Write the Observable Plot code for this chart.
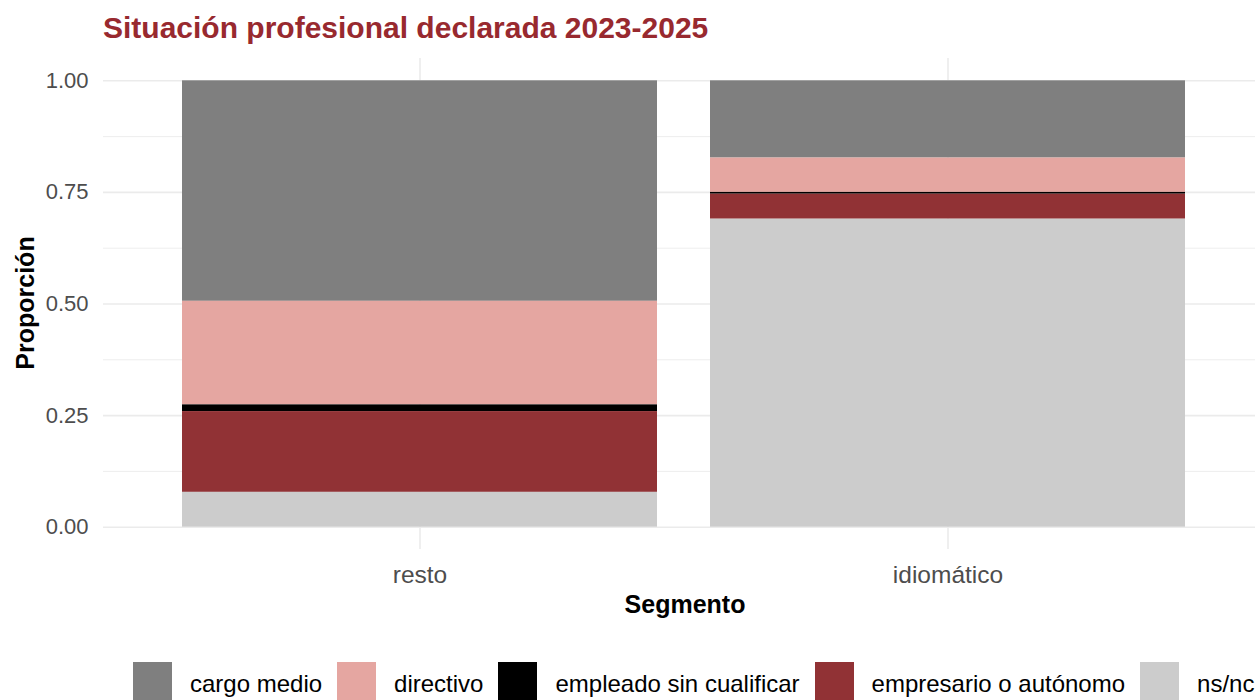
<!DOCTYPE html>
<html><head><meta charset="utf-8">
<script src="https://cdn.jsdelivr.net/npm/d3@7"></script>
<script src="https://cdn.jsdelivr.net/npm/@observablehq/plot@0.6"></script>
<style>
body{margin:0;overflow:hidden;background:#fff;font-family:"Liberation Sans",Arial,sans-serif;}
#wrap{position:relative;width:1255px;height:700px;overflow:hidden}
#title{position:absolute;left:103px;top:13px;font-size:30px;font-weight:bold;color:#98292f;line-height:1;white-space:nowrap}
#chart{position:absolute;left:0;top:0;width:1265px}
#chart svg{max-width:none !important}
#ylab{position:absolute;left:25px;top:303px;transform:translate(-50%,-50%) rotate(-90deg);font-size:25px;font-weight:bold;color:#000;white-space:nowrap;line-height:1}
#xlab{position:absolute;left:685px;top:592px;transform:translateX(-50%);font-size:25px;font-weight:bold;color:#000;white-space:nowrap;line-height:1}
#legend{position:absolute;left:133px;top:662px;display:flex;align-items:center;white-space:nowrap}
.item{display:flex;align-items:center;margin-right:15px}
.sw{width:39px;height:44px;margin-right:18px}
.lt{font-size:24px;color:#000;line-height:1}
</style></head>
<body><div id="wrap">
<div id="title">Situación profesional declarada 2023-2025</div>
<div id="chart"></div>
<div id="ylab">Proporción</div>
<div id="xlab">Segmento</div>
<div id="legend"></div>
</div>
<script>
const segments = ["resto", "idiomático"];
const categories = ["cargo medio", "directivo", "empleado sin cualificar", "empresario o autónomo", "ns/nc"];
const restoValues = [0.494, 0.232, 0.015, 0.181, 0.078];
const idiomaticoValues = [0.173, 0.077, 0.004, 0.056, 0.690];
const colors = ["#7f7f7f", "#e5a6a1", "#000000", "#913235", "#cccccc"];
const yTicks = [0, 0.25, 0.5, 0.75, 1];
const yMinor = [0.125, 0.375, 0.625, 0.875];
const stackOrder = ["ns/nc", "empresario o autónomo", "empleado sin cualificar", "directivo", "cargo medio"];

const data = [];
categories.forEach((c, i) => {
  data.push({segment: segments[0], category: c, value: restoValues[i]});
  data.push({segment: segments[1], category: c, value: idiomaticoValues[i]});
});

const chart = Plot.plot({
  width: 1265, height: 640,
  marginLeft: 103, marginRight: 0, marginTop: 58, marginBottom: 91,
  x: {domain: segments, paddingInner: 0.1, paddingOuter: 0.15, label: null},
  y: {domain: [-0.05, 1.05], label: null},
  color: {domain: categories, range: colors},
  style: {fontFamily: "'Liberation Sans', Arial, sans-serif", fontSize: "22px", color: "#4d4d4d", background: "transparent"},
  marks: [
    Plot.ruleY(yMinor, {stroke: "#ebebeb", strokeWidth: 0.9}),
    Plot.gridY(yTicks, {stroke: "#ebebeb", strokeOpacity: 1, strokeWidth: 1.6}),
    Plot.gridX({stroke: "#ebebeb", strokeOpacity: 1, strokeWidth: 1.6}),
    Plot.barY(data, {x: "segment", y: "value", fill: "category", z: "category", order: stackOrder}),
    Plot.axisY(yTicks, {tickSize: 0, tickPadding: 15, tickFormat: d3.format(".2f"), label: null, fill: "#4d4d4d", fontSize: 22}),
    Plot.axisX({tickSize: 0, tickPadding: 16, label: null, fill: "#4d4d4d", fontSize: 24.5})
  ]
});
document.getElementById("chart").appendChild(chart);

const legend = document.getElementById("legend");
categories.forEach((c, i) => {
  const it = document.createElement("div"); it.className = "item";
  const sw = document.createElement("div"); sw.className = "sw"; sw.style.background = colors[i];
  const lt = document.createElement("span"); lt.className = "lt"; lt.textContent = c;
  it.appendChild(sw); it.appendChild(lt); legend.appendChild(it);
});
</script>
</body></html>
